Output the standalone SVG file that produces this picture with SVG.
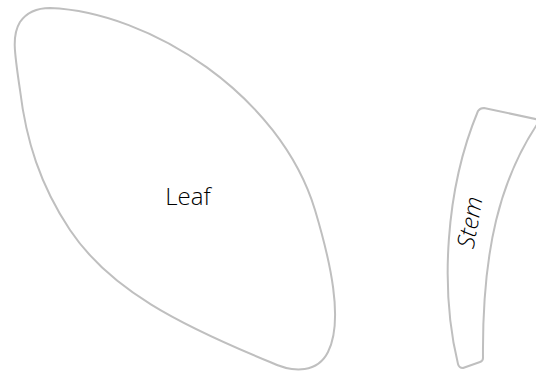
<svg xmlns="http://www.w3.org/2000/svg" width="536" height="372" viewBox="0 0 536 372">
<style>
.shape{fill:#ffffff;stroke:#bfbfbf;stroke-width:2;stroke-linejoin:round}
.lbl{font-family:"Open Sans","Segoe UI","Liberation Sans",sans-serif;font-weight:300;font-size:24px;fill:#000000}
</style>
<rect width="536" height="372" fill="#ffffff"/>
<g id="leaf">
<path class="shape" d="M 50,8 C 150,12 280,95 315,210 C 330,260 344,320 328,352 C 318,372 295,374 270,362 C 180,325 110,290 70,230 C 40,185 26,140 20,90 C 14,50 12,35 20,22 C 27,12 38,8 50,8 Z"/>
<text class="lbl" x="188" y="205" text-anchor="middle" font-size="25">Leaf</text>
</g>
<g id="stem">
<path class="shape" d="M 478,111 Q 480,108 484,108 L 540,120 C 500,178 482,250 483,358 Q 483,361 480,362 L 463,368 Q 459,368 458,364 C 440,290 445,190 478,111 Z"/>
<text class="lbl" x="0" y="0" text-anchor="middle" font-style="italic" font-size="27" transform="translate(478,224) rotate(-80)">Stem</text>
</g>
<g id="connectors"></g>
</svg>
